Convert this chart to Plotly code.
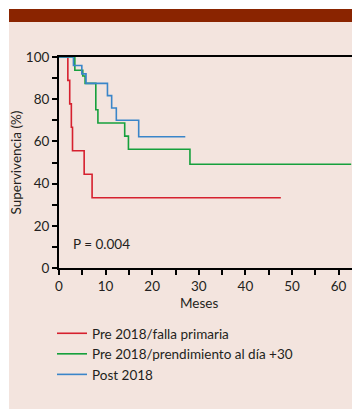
import plotly.graph_objects as go

# Data (months, survival %)
red_name = "Pre 2018/falla primaria"
red_t = [0, 1.9, 2.3, 2.65, 2.9, 5.4, 7.1, 47.6]
red_s = [100, 88.9, 77.8, 66.7, 55.6, 44.4, 33.3, 33.3]

green_name = "Pre 2018/prendimiento al día +30"
green_t = [0, 3.4, 5.1, 5.6, 7.9, 8.35, 14.1, 14.9, 28.1, 62.7]
green_s = [100, 93.75, 91.0, 87.5, 75, 68.75, 62.5, 56.25, 49.2, 49.2]

blue_name = "Post 2018"
blue_t = [0, 3.1, 4.9, 5.8, 10.4, 11.3, 12.3, 17.1, 27.1]
blue_s = [100, 96, 92, 87.5, 81.7, 75.8, 70, 62.2, 62.2]

x_ticks = [0, 10, 20, 30, 40, 50, 60]
y_ticks = [0, 20, 40, 60, 80, 100]
p_text = "P = 0.004"

FONT = "Lato"
TXT = "#231f20"
FS = 13.5

fig = go.Figure()
for name, t, s, c in [(red_name, red_t, red_s, "#d6202e"),
                      (green_name, green_t, green_s, "#16a03c"),
                      (blue_name, blue_t, blue_s, "#3a85c9")]:
    fig.add_trace(go.Scatter(x=t, y=s, mode="lines", name=name,
                             line=dict(color=c, width=1.6, shape="hv")))

# page offset (the html body has an 8 px margin)
OFF = 8
W, H = 360 - OFF, 409 - OFF
L, R, T, B = 59 - OFF, 0, 57 - OFF, 409 - 268
pw, ph = W - L - R, H - T - B

def px2x(px):
    return (px - OFF - L) / pw

def py2y(py):
    return (H - B - (py - OFF)) / ph

shapes = [
    dict(type="rect", xref="paper", yref="paper", layer="below",
         x0=px2x(9), x1=px2x(362), y0=py2y(412), y1=py2y(22),
         fillcolor="#f3e4de", line=dict(width=0)),
    dict(type="rect", xref="paper", yref="paper", layer="below",
         x0=px2x(9), x1=px2x(362), y0=py2y(22), y1=py2y(9),
         fillcolor="#8a2400", line=dict(width=0)),
]

fig.update_layout(
    width=W, height=H,
    margin=dict(l=L, r=R, t=T, b=B, pad=0, autoexpand=False),
    paper_bgcolor="white",
    plot_bgcolor="rgba(0,0,0,0)",
    font=dict(family=FONT, size=FS, color=TXT),
    shapes=shapes,
    showlegend=True,
    legend=dict(x=px2x(52), y=py2y(318), xanchor="left", yanchor="top",
                bgcolor="rgba(0,0,0,0)", font=dict(size=FS, color=TXT),
                itemwidth=30, tracegroupgap=0),
    annotations=[
        dict(x=2.5, y=11.5, xref="x", yref="y", text=p_text, showarrow=False,
             xanchor="left", yanchor="middle", font=dict(size=FS, color=TXT)),
        dict(x=30, y=py2y(303), xref="x", yref="paper", text="Meses",
             showarrow=False, xanchor="center", yanchor="middle",
             font=dict(size=FS, color=TXT)),
    ],
)

fig.update_xaxes(range=[0, pw / 4.66], tickvals=x_ticks, ticks="outside",
                 ticklen=5, tickwidth=1.5, tickcolor="black", automargin=False,
                 showline=True, linecolor="black", linewidth=2, mirror=True,
                 showgrid=False, zeroline=False,
                 minor=dict(dtick=5, tick0=0, ticks="outside", ticklen=5,
                            tickwidth=1.5, tickcolor="black", showgrid=False),
                 tickfont=dict(size=FS, color=TXT))
fig.update_yaxes(range=[0, 100], tickvals=y_ticks, ticks="outside",
                 ticklen=5, tickwidth=1.5, tickcolor="black", automargin=False,
                 showline=True, linecolor="black", linewidth=2,
                 showgrid=False, zeroline=False,
                 minor=dict(dtick=10, tick0=0, ticks="outside", ticklen=5,
                            tickwidth=1.5, tickcolor="black", showgrid=False),
                 title=dict(text="Supervivencia (%)", standoff=6,
                            font=dict(size=FS, color=TXT)),
                 tickfont=dict(size=FS, color=TXT))

fig.write_html("out.html")
